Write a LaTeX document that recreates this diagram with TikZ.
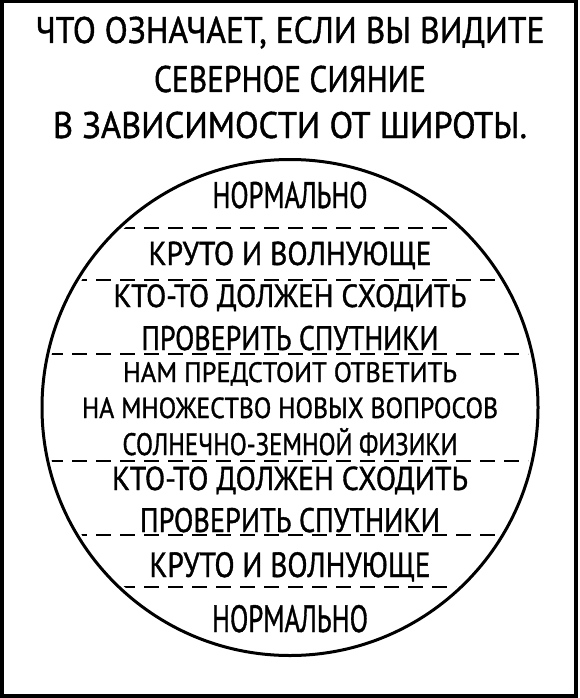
\documentclass[tikz,border=0pt]{standalone}
\usepackage{fontspec}
\setmainfont{PT Sans}[FakeBold=1.2]
\usetikzlibrary{shapes.geometric}
\newcommand\squeeze[2]{\resizebox{#1pt}{\height}{#2}}
\tikzset{
  title/.style={anchor=base,inner sep=0pt,font=\fontsize{37}{37}\selectfont},
  band/.style={anchor=base,inner sep=0pt,font=\fontsize{#1}{#1}\selectfont},
  band/.default=34,
  split/.style={draw,line width=2.8pt,dash pattern=on 15pt off 9pt},
}

\begin{document}
\begin{tikzpicture}[x=1pt,y=-1pt]
  \useasboundingbox (0,0) rectangle (580,698);
  \draw[line width=4pt] (1.5,1.5) rectangle (576,695.5);
  % title
  \foreach \y/\w/\t [count=\i] in {{43/509/ЧТО ОЗНАЧАЕТ, ЕСЛИ ВЫ ВИДИТЕ},{92/272/СЕВЕРНОЕ СИЯНИЕ},{138/474/В ЗАВИСИМОСТИ ОТ ШИРОТЫ.}}
    \node[title] (t\i) at (290,\y) {\squeeze{\w}{\t}};
  % the sky
  \node[circle,draw,line width=3pt,minimum size=496pt,inner sep=0pt] (globe) at (290,407.5) {};
  \begin{scope}
    \clip (globe.center) circle (244);
    \foreach \y in {228,280,354,461,535,587}
      \draw[split] (0,\y) -- (580,\y);
  \end{scope}
  \foreach \y/\w/\s/\t [count=\i] in {208/155/37/НОРМАЛЬНО,265/283/33/КРУТО И ВОЛНУЮЩЕ,307/353/32/КТО-ТО ДОЛЖЕН СХОДИТЬ,350/297/34/ПРОВЕРИТЬ СПУТНИКИ,382/334/28/НАМ ПРЕДСТОИТ ОТВЕТИТЬ,418/416/29/НА МНОЖЕСТВО НОВЫХ ВОПРОСОВ,455/335/31/СОЛНЕЧНО-ЗЕМНОЙ ФИЗИКИ,490/356/33/КТО-ТО ДОЛЖЕН СХОДИТЬ,532/300/34/ПРОВЕРИТЬ СПУТНИКИ,577/281/35/КРУТО И ВОЛНУЮЩЕ,632/156/38/НОРМАЛЬНО}
    \node[band=\s] (b\i) at (290,\y) {\squeeze{\w}{\t}};
\end{tikzpicture}
\end{document}
